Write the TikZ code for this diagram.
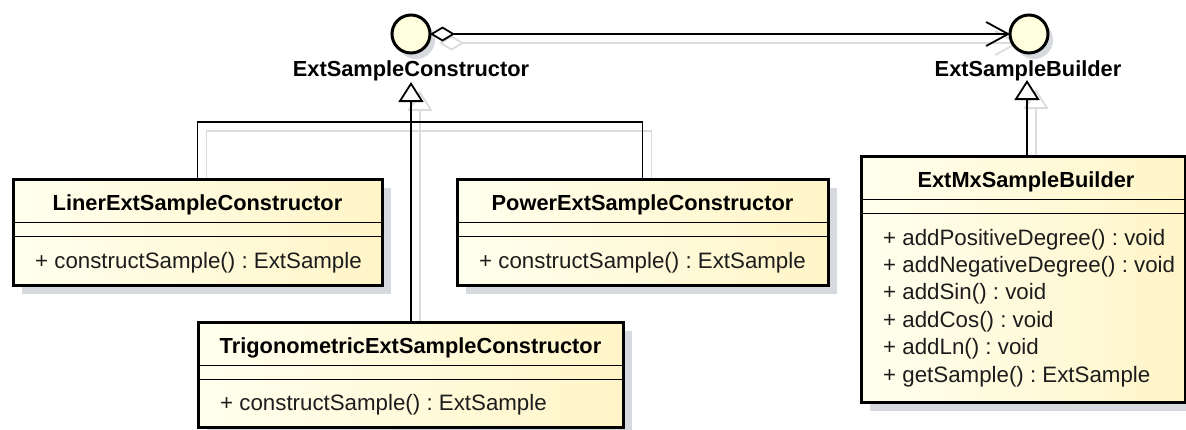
\documentclass[tikz,border=0pt]{standalone}
\usepackage{fontspec}
\setmainfont{Liberation Sans}
\usetikzlibrary{arrows.meta,calc,shadows,backgrounds}
\frenchspacing

\definecolor{boxlight}{HTML}{FFFFEE}
\definecolor{boxdeep}{HTML}{FFF5C8}
\definecolor{ifacefill}{HTML}{FFFFE0}
\definecolor{shadegrey}{HTML}{D6D9DE}
\definecolor{lineshade}{HTML}{DCDCDC}
\definecolor{methodtext}{HTML}{1C1C1C}

\tikzset{
  boxshadow/.style={drop shadow={shadow xshift=9pt,shadow yshift=-9pt,fill=shadegrey,opacity=1}},
  classbox/.style={rectangle, draw=black, line width=3pt, anchor=north west,
    inner sep=0pt, outer sep=0pt, left color=boxlight, right color=boxdeep, boxshadow},
  iface/.style={circle, draw=black, line width=3pt, fill=ifacefill, minimum size=38pt,
    inner sep=0pt, outer sep=0pt,
    drop shadow={shadow xshift=5pt,shadow yshift=-6pt,fill=shadegrey,opacity=1}},
  classtitle/.style={anchor=base, inner sep=0pt, font=\fontsize{21.8}{25}\selectfont\bfseries},
  ifacelabel/.style={classtitle},
  method/.style={anchor=base west, inner sep=0pt, text=methodtext,
    font=\fontsize{22.3}{27}\selectfont},
  sep/.style={line width=1.6pt},
  link/.style={line width=1.8pt, draw=black},
  gentip/.style={-{Triangle[open,length=20pt,width=25pt,fill=white,line width=1.8pt]}},
  aggtip/.style={{Diamond[open,length=25pt,width=15pt,fill=white,line width=1.8pt]}-{Straight Barb[length=22pt,width=24pt,line width=1.8pt]}},
  linkshade/.style={line width=1.8pt, draw=lineshade, transform canvas={shift={(9pt,-9pt)}}}
}

\begin{document}
\begin{tikzpicture}[x=1pt,y=-1pt]
\useasboundingbox (0,0) rectangle (1186,429);

% interfaces
\node[iface] (c1) at (411,34) {};
\node[ifacelabel] (c1name) at (411,76.5) {ExtSampleConstructor};
\node[iface] (c2) at (1029,34) {};
\node[ifacelabel] (c2name) at (1028,76.5) {ExtSampleBuilder};

\coordinate (c1tip) at (411,82);
\coordinate (c2tip) at (1027,80);
\coordinate (hub) at (411,122);

% implementing classes
\node[classbox, minimum width=369pt, minimum height=106pt] (liner) at (13,179) {};
\node[classbox, minimum width=371pt, minimum height=106pt] (power) at (457,179) {};
\node[classbox, minimum width=425pt, minimum height=105pt] (trig) at (198,322) {};
\node[classbox, minimum width=324pt, minimum height=246pt] (builder) at (861,156) {};

% compartments
\foreach \b in {liner,power,trig,builder}{
  \draw[sep] ($(\b.north west)+(0,43.5)$) -- ($(\b.north east)+(0,43.5)$);
  \draw[sep] ($(\b.north west)+(0,57.5)$) -- ($(\b.north east)+(0,57.5)$);
}

\node[classtitle] (linerT) at ($(liner.north)+(0,31.5)$) {LinerExtSampleConstructor};
\node[classtitle] (powerT) at ($(power.north)+(0,31.5)$) {PowerExtSampleConstructor};
\node[classtitle] (trigT) at ($(trig.north)+(0,31.5)$) {TrigonometricExtSampleConstructor};
\node[classtitle] (builderT) at ($(builder.north)+(3,31.5)$) {ExtMxSampleBuilder};

\node[method] (linerM) at ($(liner.north west)+(22,89)$) {+ constructSample() : ExtSample};
\node[method] (powerM) at ($(power.north west)+(22,89)$) {+ constructSample() : ExtSample};
\node[method] (trigM) at ($(trig.north west)+(22,88)$) {+ constructSample() : ExtSample};
\foreach \txt [count=\i from 0] in {%
  {+ addPositiveDegree() : void},
  {+ addNegativeDegree() : void},
  {+ addSin() : void},
  {+ addCos() : void},
  {+ addLn() : void},
  {+ getSample() : ExtSample}}{
  \node[method] (bm\i) at ($(builder.north west)+(22,89+27.4*\i)$) {\txt};
}

% connector shadows
\begin{scope}[on background layer]
  \draw[linkshade, aggtip] (c1) -- (c2);
  \draw[linkshade, gentip] (trig.north -| hub) -- (c1tip);
  \draw[linkshade] (liner.north) -- (liner.north |- hub) -- (power.north |- hub) -- (power.north);
  \draw[linkshade, gentip] (c2tip |- builder.north) -- (c2tip);
\end{scope}

% connectors
\draw[link, aggtip] (c1) -- (c2);
\draw[link] (liner.north) -- (liner.north |- hub) -- (power.north |- hub) -- (power.north);
\draw[link, gentip] (trig.north -| hub) -- (c1tip);
\draw[link, gentip] (c2tip |- builder.north) -- (c2tip);
\end{tikzpicture}
\end{document}
